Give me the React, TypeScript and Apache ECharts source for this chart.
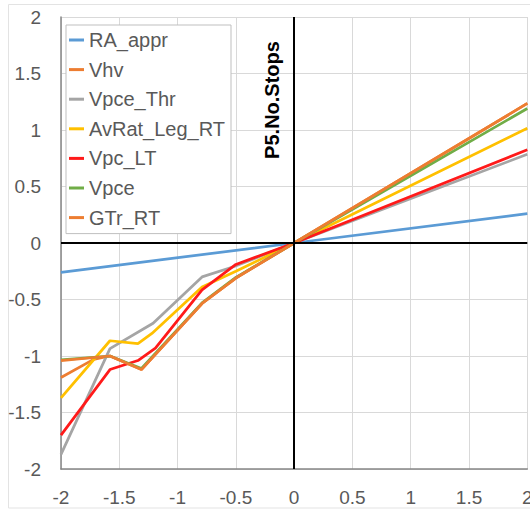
import React, { useEffect, useRef } from "react";
import * as echarts from "echarts";

const seriesNames = ["RA_appr", "Vhv", "Vpce_Thr", "AvRat_Leg_RT", "Vpc_LT", "Vpce", "GTr_RT"];
const seriesColors = ["#5B9BD5", "#ED7D31", "#A5A5A5", "#FFC000", "#FF1A1A", "#70AD47", "#ED7D31"];

const raAppr = [[-2, -0.26], [0, 0], [2, 0.26]];
const vhv = [[-2, -1.19], [-1.72, -1.03], [-1.58, -1.0], [-1.31, -1.12], [-0.79, -0.535], [-0.5, -0.31], [0, 0], [2, 1.235]];
const vpceThr = [[-2, -1.87], [-1.58, -0.935], [-1.21, -0.71], [-0.79, -0.3], [-0.52, -0.21], [0, 0], [2, 0.785]];
const avRatLegRT = [[-2, -1.37], [-1.58, -0.865], [-1.34, -0.89], [-1.22, -0.8], [-0.79, -0.39], [-0.5, -0.25], [0, 0], [2, 1.015]];
const vpcLT = [[-2, -1.7], [-1.58, -1.12], [-1.34, -1.04], [-1.19, -0.93], [-0.79, -0.415], [-0.5, -0.19], [0, 0], [2, 0.825]];
const vpce = [[-2, -1.035], [-1.58, -1.0], [-1.31, -1.11], [-0.79, -0.53], [-0.5, -0.305], [0, 0], [2, 1.19]];
const gtrRT = [[-2, -1.04], [-1.58, -1.0], [-1.31, -1.12], [-0.79, -0.535], [-0.5, -0.31], [0, 0], [2, 1.235]];

const seriesData = [raAppr, vhv, vpceThr, avRatLegRT, vpcLT, vpce, gtrRT];

const axisMin = -2;
const axisMax = 2;
const axisStep = 0.5;
const chartTitle = "P5.No.Stops";

const FONT = "'Liberation Sans', Arial, sans-serif";

export default function App() {
  const ref = useRef<HTMLDivElement>(null);
  useEffect(() => {
    if (!ref.current) return;
    const chart = echarts.init(ref.current, undefined, { renderer: "svg" });
    const series: any[] = seriesNames.map((name, i) => ({
      name,
      type: "line",
      data: seriesData[i],
      showSymbol: false,
      symbol: "none",
      lineStyle: { color: seriesColors[i], width: 2.75 },
      itemStyle: { color: seriesColors[i] },
      z: 3,
    }));
    series.unshift({
      name: "__axes",
      type: "line",
      data: [],
      z: 2,
      markLine: {
        silent: true,
        symbol: "none",
        label: { show: false },
        lineStyle: { color: "#000000", width: 2, type: "solid" },
        data: [{ xAxis: 0 }, { yAxis: 0 }],
      },
    });
    chart.setOption({
      animation: false,
      backgroundColor: "#ffffff",
      grid: {
        left: 61,
        right: 2.7,
        top: 17,
        bottom: 42,
        containLabel: false,
        outerBoundsMode: "none",
      },
      xAxis: {
        type: "value",
        min: axisMin,
        max: axisMax,
        interval: axisStep,
        axisLine: { show: true, onZero: false, lineStyle: { color: "#868686", width: 1.5 } },
        axisTick: { show: false },
        splitLine: { show: true, lineStyle: { color: "#d9d9d9", width: 1 } },
        axisLabel: { color: "#595959", fontSize: 19, fontFamily: FONT, margin: 19, hideOverlap: false },
      },
      yAxis: {
        type: "value",
        min: axisMin,
        max: axisMax,
        interval: axisStep,
        axisLine: { show: true, onZero: false, lineStyle: { color: "#868686", width: 1.5 } },
        axisTick: { show: false },
        splitLine: { show: true, lineStyle: { color: "#d9d9d9", width: 1 } },
        axisLabel: { color: "#595959", fontSize: 19, fontFamily: FONT, margin: 20 },
      },
      legend: {
        data: seriesNames,
        orient: "vertical",
        left: 66,
        top: 25,
        padding: [5, 6, 6, 3],
        itemGap: 9.6,
        itemWidth: 15,
        itemHeight: 3,
        icon: "rect",
        backgroundColor: "#ffffff",
        borderColor: "#bfbfbf",
        borderWidth: 1,
        textStyle: { color: "#595959", fontSize: 20, fontFamily: FONT, lineHeight: 20 },
      },
      graphic: [
        {
          type: "rect",
          silent: true,
          shape: { x: 8.5, y: 4.5, width: 540, height: 503.5 },
          style: { fill: "none", stroke: "#e3e3e3", lineWidth: 1 },
          z: -1,
        },
        {
          type: "text",
          x: 271.5,
          y: 100,
          rotation: Math.PI / 2,
          style: {
            text: chartTitle,
            fill: "#000000",
            font: `bold 20px ${FONT}`,
            textAlign: "center",
            textVerticalAlign: "middle",
          },
          z: 10,
        },
      ],
      series,
    });
    return () => chart.dispose();
  }, []);
  return (
    <div
      ref={ref}
      style={{ position: "absolute", left: 0, top: 0, width: 530, height: 511 }}
    />
  );
}
